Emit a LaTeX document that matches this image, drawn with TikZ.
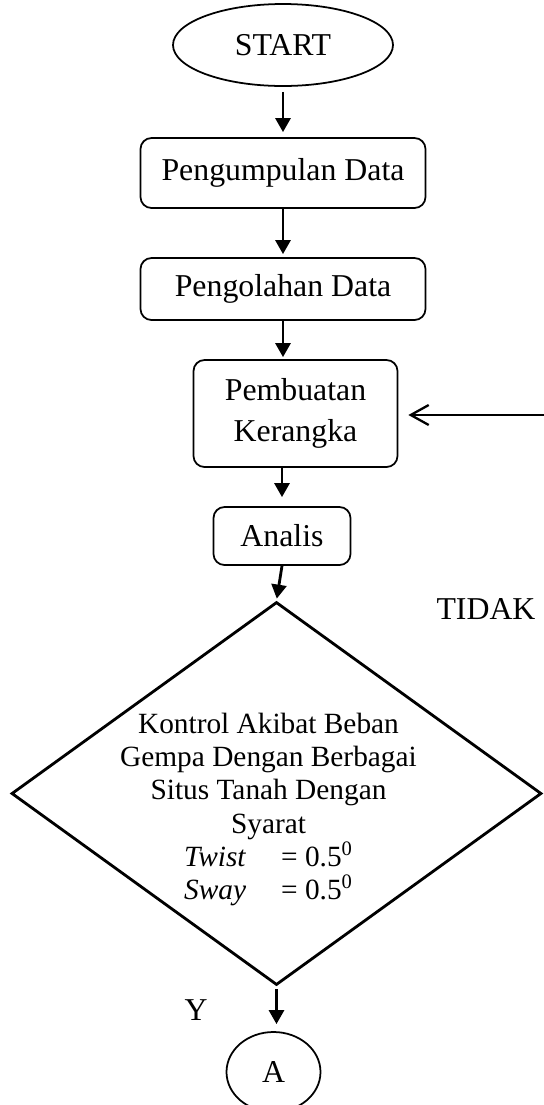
\documentclass[tikz,border=0pt]{standalone}
\usepackage{fontspec}
\setmainfont{Liberation Serif}
\usetikzlibrary{shapes,arrows,arrows.meta}
\tikzstyle{block} = [rectangle, draw, line width=1pt, rounded corners=0.22cm,
    align=center, inner sep=0pt]
\tikzstyle{terminal} = [ellipse, draw, line width=1pt, inner sep=0pt]
\tikzstyle{decision} = [diamond, draw, line width=1.6pt, inner sep=0pt]
\tikzstyle{line} = [draw, line width=1.6pt, -{Triangle[length=2.8mm,width=3mm]}]
\tikzstyle{balikline} = [draw, line width=1.3pt, -{Straight Barb[length=3.6mm,width=4mm]}]
\newcommand{\syaratrow}[2]{\makebox[1.94cm][l]{\textit{#1}}= #2\textsuperscript{0}}

\begin{document}
\begin{tikzpicture}[node distance=2.5cm, font=\fontsize{18.1pt}{17.6pt}\selectfont]
		\useasboundingbox (0,0) rectangle (10.88,-22.1);
		\node [terminal, minimum width=4.4cm, minimum height=1.64cm] (start) at (5.66,-0.9) {START};
		\node [block, below of=start, node distance=2.56cm, minimum width=5.7cm, minimum height=1.4cm] (kumpul) {Pengumpulan Data};
		\node [block, below of=kumpul, node distance=2.32cm, minimum width=5.7cm, minimum height=1.24cm] (olah) {Pengolahan Data};
		\node [block, below of=olah, node distance=2.49cm, xshift=0.25cm, minimum width=4.08cm, minimum height=2.14cm] (kerangka) {Pembuatan\\[0.2cm]Kerangka};
		\node [block, below of=kerangka, node distance=2.45cm, xshift=-0.27cm, minimum width=2.74cm, minimum height=1.16cm] (analis) {Analis};
		\node [decision, below of=analis, node distance=5.15cm, xshift=-0.11cm, minimum width=10.6cm, minimum height=7.66cm] (kontrol) {};
		\node [align=center, font=\fontsize{16.7pt}{19pt}\selectfont] (syarat) at ([xshift=-0.16cm, yshift=-0.32cm]kontrol.center)
			{Kontrol Akibat Beban\\ Gempa Dengan Berbagai\\ Situs Tanah Dengan\\ Syarat\\ \syaratrow{Twist}{0.5}\\ \syaratrow{Sway}{0.5}};
		\node [terminal, below of=kontrol, node distance=5.57cm, xshift=-0.06cm, minimum width=1.88cm, minimum height=1.6cm] (a) {A};
		
		\node (tidak) at (9.72,-12.18) {TIDAK};
		\node (ya) at (3.92,-20.2) {Y};
		\coordinate (balik) at (10.88,-8.3);
		
		\path [line, shorten <=0.1cm, shorten >=0.1cm] (start) -- (kumpul);
		\path [line, shorten >=0.06cm] (kumpul) -- (olah);
		\path [line, shorten >=0.04cm] (olah.south) -- (olah.south |- kerangka.north);
		\path [line, shorten >=0.18cm] (kerangka.south -| analis) -- (analis.north);
		\path [line, shorten >=0.04cm] (analis.south) -- (kontrol.north);
		\path [line, shorten <=0.06cm, shorten >=0.14cm] (kontrol.south) -- (kontrol.south |- a.north);
		\path [balikline, shorten >=0.2cm] (balik) -- (balik -| kerangka.east);
	\end{tikzpicture}
\end{document}
